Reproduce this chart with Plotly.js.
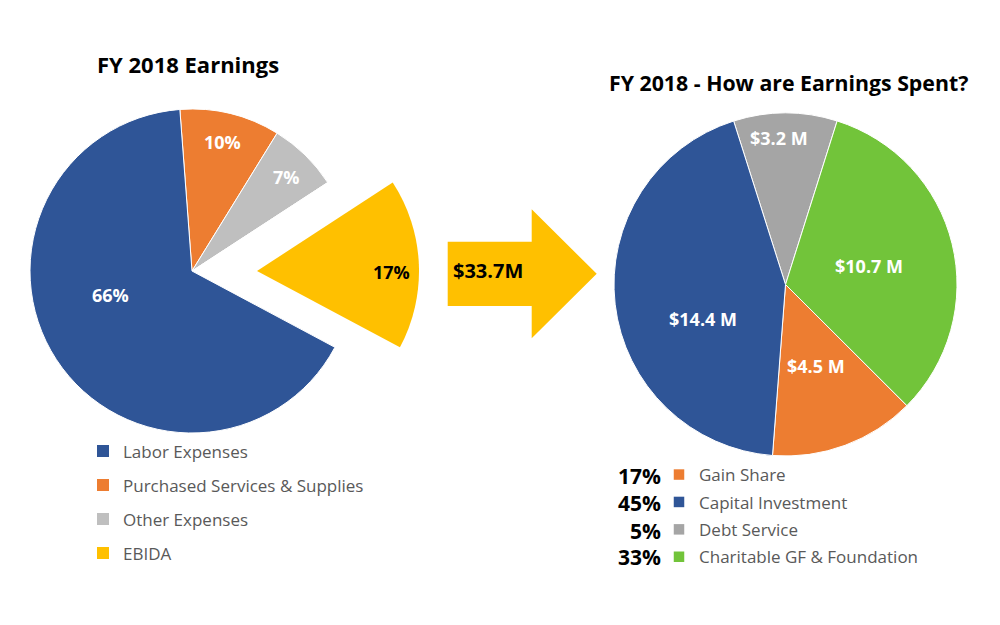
<!DOCTYPE html>
<html>
<head>
<meta charset="utf-8">
<script src="https://cdn.plot.ly/plotly-3.0.1.min.js"></script>
<style>html,body{margin:0;padding:0;background:#fff;}#chart{width:1000px;height:625px;}</style>
</head>
<body>
<div id="chart"></div>
<script>
// ---- data ----
const leftTitle = 'FY 2018 Earnings';
const rightTitle = 'FY 2018 - How are Earnings Spent?';
const leftLabels = ['Purchased Services & Supplies', 'Other Expenses', 'EBIDA', 'Labor Expenses'];
const leftValues = [10, 7, 17, 66];
const leftText = ['10%', '7%', '17%', '66%'];
const leftLegend = ['Labor Expenses', 'Purchased Services & Supplies', 'Other Expenses', 'EBIDA'];
const rightLabels = ['Debt Service', 'Charitable GF & Foundation', 'Gain Share', 'Capital Investment'];
const rightValues = [3.2, 10.7, 4.5, 14.4];
const rightText = ['$3.2 M', '$10.7 M', '$4.5 M', '$14.4 M'];
const rightLegend = ['Gain Share', 'Capital Investment', 'Debt Service', 'Charitable GF & Foundation'];
const rightLegendPct = ['17%', '45%', '5%', '33%'];
const transferText = '$33.7M';
const pulledLabel = 'EBIDA';

// ---- styles ----
const colorMap = {
  'Labor Expenses': '#2F5597',
  'Purchased Services & Supplies': '#ED7D31',
  'Other Expenses': '#BFBFBF',
  'EBIDA': '#FFC000',
  'Gain Share': '#ED7D31',
  'Capital Investment': '#2F5597',
  'Debt Service': '#A5A5A5',
  'Charitable GF & Foundation': '#72C43A'
};
const FONT = 'Open Sans, Noto Sans, sans-serif';
const CLEAR = 'rgba(0,0,0,0)';

const data = [];
// main left pie (pulled slice left empty)
data.push({
  type: 'pie', labels: leftLabels, values: leftValues, sort: false,
  direction: 'clockwise', rotation: -4.3, textinfo: 'none', hoverinfo: 'label+percent',
  marker: { colors: leftLabels.map(l => l === pulledLabel ? CLEAR : colorMap[l]), line: { color: '#ffffff', width: 1 } },
  domain: { x: [0.030, 0.354], y: [0.3072, 0.8256] },
  showlegend: false
});
// exploded slice, same geometry shifted outward
data.push({
  type: 'pie', labels: leftLabels, values: leftValues, sort: false,
  direction: 'clockwise', rotation: -4.3, textinfo: 'none', hoverinfo: 'skip',
  marker: { colors: leftLabels.map(l => l === pulledLabel ? colorMap[l] : CLEAR), line: { width: 0 } },
  domain: { x: [0.095, 0.419], y: [0.3072, 0.8256] },
  showlegend: false
});
// right pie
data.push({
  type: 'pie', labels: rightLabels, values: rightValues, sort: false,
  direction: 'clockwise', rotation: -17.6, textinfo: 'none', hoverinfo: 'label+value',
  marker: { colors: rightLabels.map(l => colorMap[l]), line: { color: '#ffffff', width: 1 } },
  domain: { x: [0.614, 0.957], y: [0.2704, 0.8192] },
  showlegend: false
});
// legend entries
leftLegend.forEach((l, i) => data.push({
  type: 'scatter', mode: 'markers', x: [null], y: [null], name: l,
  legend: 'legend', legendgroup: 'L' + i,
  marker: { symbol: 'square', size: 12, color: colorMap[l] }, hoverinfo: 'skip'
}));
rightLegend.forEach((l, i) => data.push({
  type: 'scatter', mode: 'markers', x: [null], y: [null], name: l,
  legend: 'legend2', legendgroup: 'R' + i,
  marker: { symbol: 'square', size: 10.5, color: colorMap[l] }, hoverinfo: 'skip'
}));

// ---- annotations ----
const ann = [];
ann.push({ text: '<b>' + leftTitle + '</b>', x: 0.1875, y: 0.8968, font: { size: 22, color: '#000' } });
ann.push({ text: '<b>' + rightTitle + '</b>', x: 0.788, y: 0.868, font: { size: 21.3, color: '#000' } });
const leftPos = [[0.2227, 0.7733], [0.2867, 0.7168], [0.3917, 0.5653], [0.1107, 0.528]];
leftText.forEach((t, i) => ann.push({
  text: '<b>' + t + '</b>', x: leftPos[i][0], y: leftPos[i][1],
  font: { size: 18, color: leftLabels[i] === pulledLabel ? '#000' : '#fff' }
}));
const rightPos = [[0.779, 0.7792], [0.869, 0.5749], [0.8157, 0.4149], [0.703, 0.4896]];
rightText.forEach((t, i) => ann.push({
  text: '<b>' + t + '</b>', x: rightPos[i][0], y: rightPos[i][1], font: { size: 18, color: '#fff' }
}));
ann.push({ text: '<b>' + transferText + '</b>', x: 0.4875, y: 0.5675, font: { size: 20, color: '#000' } });
const pctY = [0.2388, 0.1947, 0.1509, 0.1093];
rightLegendPct.forEach((t, i) => ann.push({
  text: '<b>' + t + '</b>', x: 0.663, y: pctY[i], xanchor: 'right', font: { size: 21, color: '#000' }
}));
ann.forEach(a => { a.xref = 'paper'; a.yref = 'paper'; a.showarrow = false; if (!a.xanchor) a.xanchor = 'center'; a.yanchor = 'middle'; a.font.family = FONT; });

const arrowPath = 'M0.4477,0.61328 L0.5317,0.61328 L0.5317,0.66512 L0.5967,0.56192 L0.5317,0.45872 L0.5317,0.5104 L0.4477,0.5104 Z';

const layout = {
  width: 1000, height: 625,
  margin: { l: 0, r: 0, t: 0, b: 0 },
  paper_bgcolor: '#ffffff', plot_bgcolor: CLEAR,
  font: { family: FONT, color: '#595959' },
  xaxis: { visible: false }, yaxis: { visible: false },
  showlegend: true,
  legend: {
    x: 0.083, y: 0.3064, xanchor: 'left', yanchor: 'top', orientation: 'v',
    traceorder: 'grouped', tracegroupgap: 8.9, bgcolor: CLEAR,
    font: { family: FONT, size: 17, color: '#595959' }
  },
  legend2: {
    x: 0.659, y: 0.2688, xanchor: 'left', yanchor: 'top', orientation: 'v',
    traceorder: 'grouped', tracegroupgap: 2.3, bgcolor: CLEAR,
    font: { family: FONT, size: 17, color: '#595959' }
  },
  shapes: [{ type: 'path', xref: 'paper', yref: 'paper', path: arrowPath, fillcolor: '#FFC000', line: { width: 0 }, layer: 'below' }],
  annotations: ann
};

Plotly.newPlot('chart', data, layout, { displayModeBar: false, staticPlot: true });
</script>
</body>
</html>
